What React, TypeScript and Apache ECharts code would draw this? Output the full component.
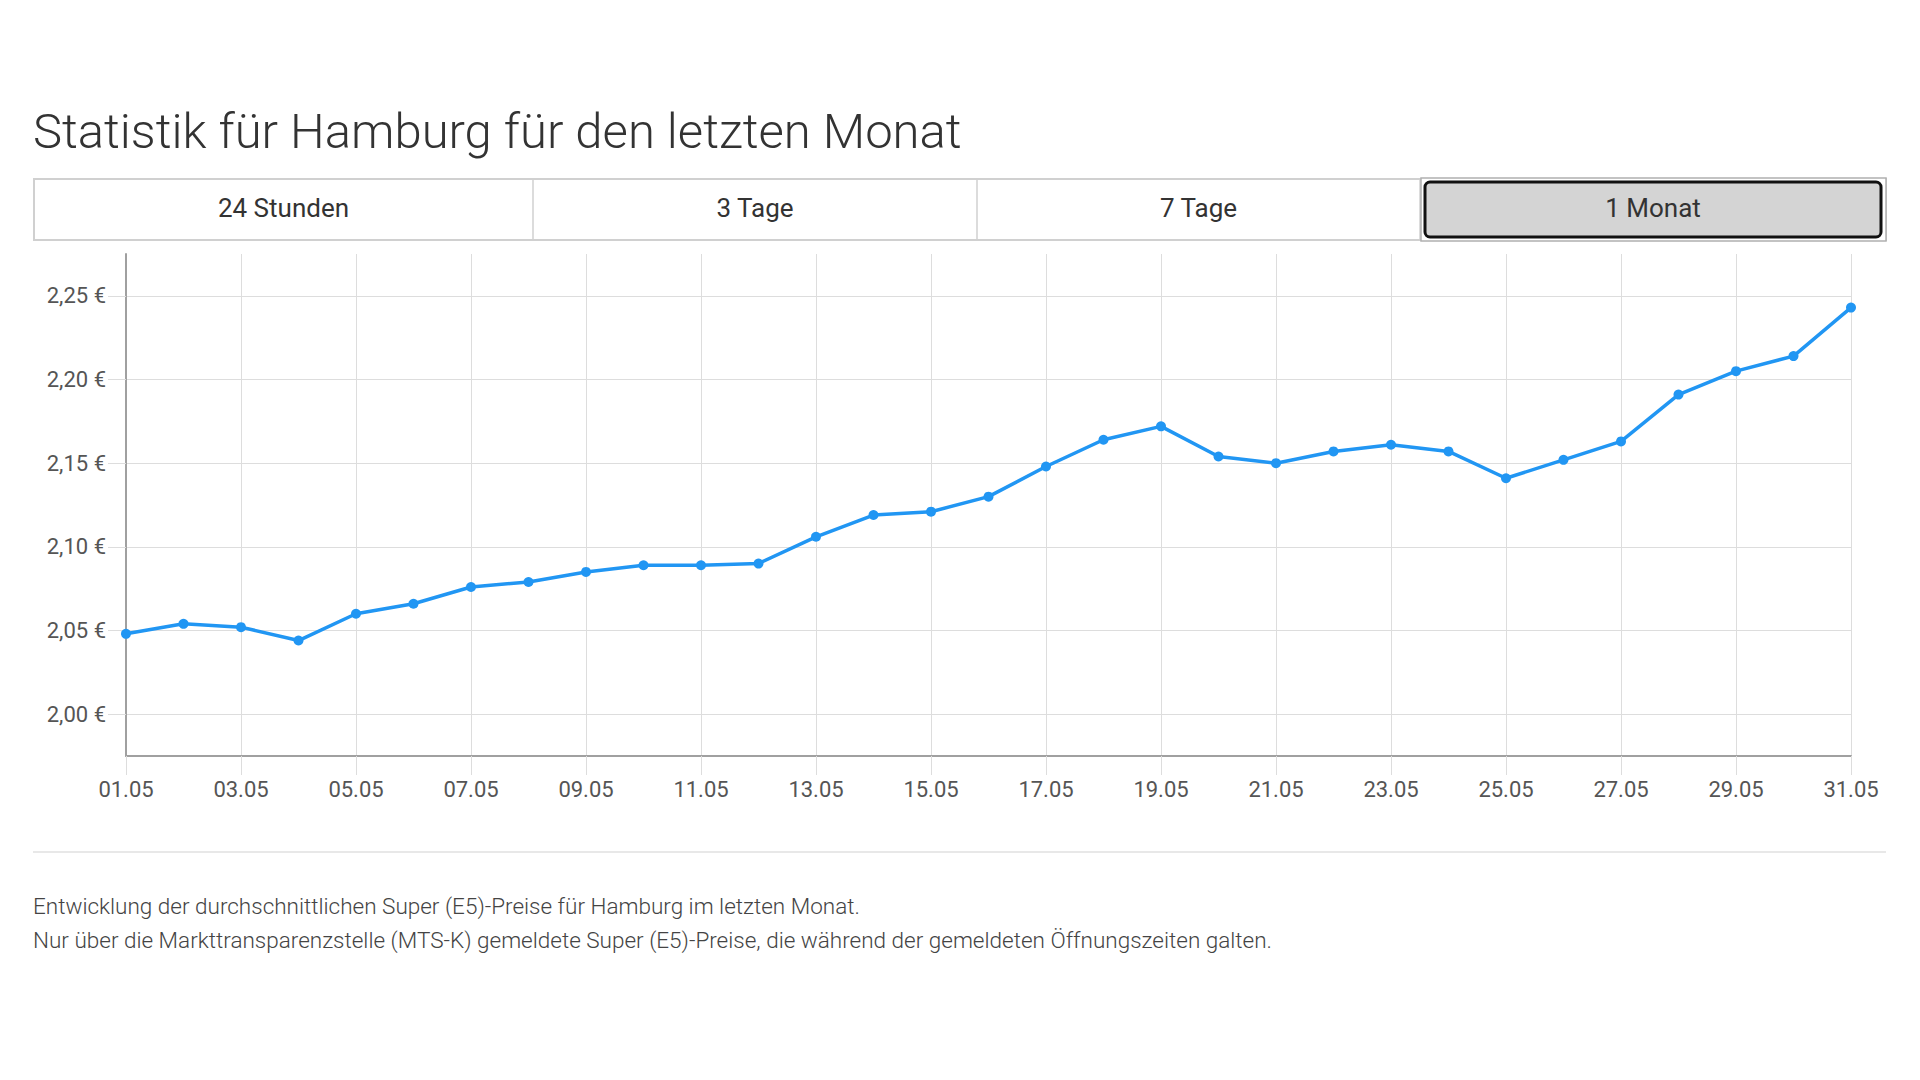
import React, { useEffect, useRef } from "react";
import * as echarts from "echarts";

const days = [
  "01.05", "02.05", "03.05", "04.05", "05.05", "06.05", "07.05", "08.05",
  "09.05", "10.05", "11.05", "12.05", "13.05", "14.05", "15.05", "16.05",
  "17.05", "18.05", "19.05", "20.05", "21.05", "22.05", "23.05", "24.05",
  "25.05", "26.05", "27.05", "28.05", "29.05", "30.05", "31.05",
];

const prices = [
  2.048, 2.054, 2.052, 2.044, 2.060, 2.066, 2.076, 2.079, 2.085, 2.089,
  2.089, 2.090, 2.106, 2.119, 2.121, 2.130, 2.148, 2.164, 2.172, 2.154,
  2.150, 2.157, 2.161, 2.157, 2.141, 2.152, 2.163, 2.191, 2.205, 2.214,
  2.243,
];

const yTicks = [2.0, 2.05, 2.1, 2.15, 2.2, 2.25];
const yMin = 1.975;
const yMax = 2.275;

const tabLabels = ["24 Stunden", "3 Tage", "7 Tage", "1 Monat"];
const titleText = "Statistik für Hamburg für den letzten Monat";
const footnotes = [
  "Entwicklung der durchschnittlichen Super (E5)-Preise für Hamburg im letzten Monat.",
  "Nur über die Markttransparenzstelle (MTS-K) gemeldete Super (E5)-Preise, die während der gemeldeten Öffnungszeiten galten.",
];

const FONT = "Roboto";
const BLUE = "#2196f3";
const GRID = "#dddddd";
const AXIS = "#a0a0a0";

export default function App() {
  const ref = useRef<HTMLDivElement>(null);

  useEffect(() => {
    if (!ref.current) return;
    const chart = echarts.init(ref.current, undefined, { renderer: "svg" });

    const tabEdges = [34, 533, 977, 1420, 1886];
    const tabGraphics: any[] = [];
    tabGraphics.push({
      type: "rect",
      shape: { x: 34, y: 179, width: 1852, height: 61 },
      style: { fill: "#ffffff", stroke: "#d0d0d0", lineWidth: 2 },
      z: 1,
    });
    for (let i = 1; i < tabEdges.length - 1; i++) {
      tabGraphics.push({
        type: "line",
        shape: { x1: tabEdges[i], y1: 179, x2: tabEdges[i], y2: 240 },
        style: { stroke: "#d0d0d0", lineWidth: 1.5 },
        z: 2,
      });
    }
    tabGraphics.push({
      type: "rect",
      shape: { x: 1421, y: 178, width: 465, height: 63 },
      style: { fill: "#ffffff", stroke: "#b0b0b0", lineWidth: 1.5 },
      z: 3,
    });
    tabGraphics.push({
      type: "rect",
      shape: { x: 1425, y: 182, width: 456, height: 55, r: 5 },
      style: { fill: "#d4d4d4", stroke: "#111111", lineWidth: 3 },
      z: 4,
    });
    tabLabels.forEach((t, i) => {
      tabGraphics.push({
        type: "text",
        x: (tabEdges[i] + tabEdges[i + 1]) / 2,
        y: 208,
        style: {
          text: t,
          fontSize: 26,
          fontFamily: FONT,
          fill: "#333333",
          align: "center",
          verticalAlign: "middle",
        },
        z: 5,
      });
    });

    const option: any = {
      animation: false,
      backgroundColor: "#ffffff",
      grid: { left: 126, right: 69, top: 254, bottom: 324, containLabel: false },
      xAxis: {
        type: "category",
        data: days,
        boundaryGap: false,
        axisLine: { show: true, lineStyle: { color: AXIS, width: 2 } },
        axisTick: { show: true, interval: 1, length: 19, lineStyle: { color: GRID, width: 1 } },
        axisLabel: {
          interval: 1,
          margin: 22,
          fontSize: 22,
          fontFamily: FONT,
          color: "#555555",
        },
        splitLine: { show: true, interval: 1, lineStyle: { color: GRID, width: 1 } },
      },
      yAxis: {
        type: "value",
        min: yMin,
        max: yMax,
        splitNumber: 6,
        axisLine: { show: true, lineStyle: { color: AXIS, width: 2 } },
        axisTick: {
          show: true,
          length: 18,
          customValues: yTicks,
          lineStyle: { color: GRID, width: 1 },
        },
        axisLabel: {
          customValues: yTicks,
          margin: 20,
          fontSize: 22,
          fontFamily: FONT,
          color: "#555555",
          formatter: (v: number) => v.toFixed(2).replace(".", ",") + " €",
        },
        splitLine: {
          show: true,
          lineStyle: { color: GRID, width: 1 },
        },
      },
      series: [
        {
          type: "line",
          data: prices,
          symbol: "circle",
          symbolSize: 10,
          lineStyle: { color: BLUE, width: 3.5 },
          itemStyle: { color: BLUE },
          z: 10,
        },
      ],
      graphic: [
        {
          type: "text",
          x: 33,
          y: 131,
          style: {
            text: titleText,
            fontSize: 49,
            fontWeight: 300,
            fontFamily: FONT,
            fill: "#333333",
            verticalAlign: "middle",
          },
        },
        ...tabGraphics,
        {
          type: "line",
          shape: { x1: 33, y1: 852, x2: 1886, y2: 852 },
          style: { stroke: "#e8e8e8", lineWidth: 2 },
        },
        ...footnotes.map((t, i) => ({
          type: "text",
          x: 33,
          y: 906 + i * 34,
          style: {
            text: t,
            fontSize: 22.5,
            fontWeight: 300,
            fontFamily: FONT,
            fill: "#444444",
            verticalAlign: "middle",
          },
        })),
      ],
    };

    chart.setOption(option);
    return () => chart.dispose();
  }, []);

  return (
    <div
      ref={ref}
      style={{ position: "fixed", left: 0, top: 0, width: 1920, height: 1080, background: "#fff" }}
    />
  );
}
